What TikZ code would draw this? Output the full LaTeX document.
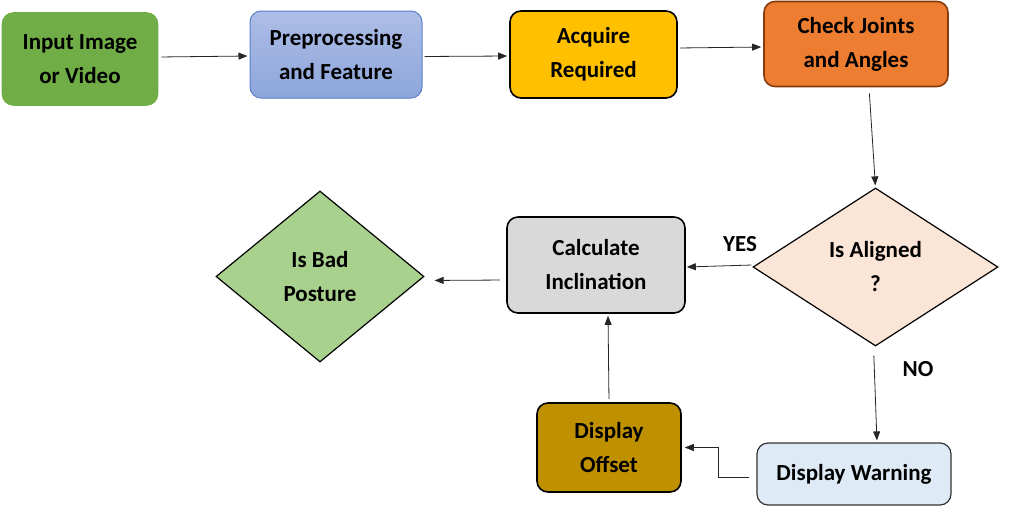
\documentclass[tikz,border=0pt]{standalone}
\usepackage{fontspec}
\setmainfont{Carlito}
\usetikzlibrary{shapes.geometric,arrows.meta}
\definecolor{cgreen}{HTML}{70AD47}
\definecolor{cbluetop}{HTML}{ADBDE6}
\definecolor{cbluebot}{HTML}{8DA6DB}
\definecolor{cblueline}{HTML}{5B7FCB}
\definecolor{cyellow}{HTML}{FFC000}
\definecolor{corange}{HTML}{ED7D31}
\definecolor{cbrown}{HTML}{843C0C}
\definecolor{cpeach}{HTML}{FBE5D6}
\definecolor{cgray}{HTML}{D9D9D9}
\definecolor{clgreen}{HTML}{A9D18E}
\definecolor{cgold}{HTML}{BF9000}
\definecolor{clblue}{HTML}{DEEBF7}
\tikzset{
  box/.style={rectangle, rounded corners=11pt, inner sep=0pt, align=center, line width=1.6pt,
    font=\fontsize{23}{34}\selectfont\bfseries},
  dia/.style={diamond, inner sep=0pt, align=center, draw=black, line width=1.2pt,
    font=\fontsize{23}{34}\selectfont\bfseries},
  lbl/.style={font=\fontsize{23}{26}\selectfont\bfseries},
  arr/.style={-{Triangle[length=9pt,width=7pt]}, line width=0.8pt, black!85}
}
\begin{document}
\begin{tikzpicture}[x=1pt,y=-1pt]
\useasboundingbox (0,0) rectangle (1018,509);
\node[box, fill=cgreen, draw=cgreen, minimum width=155pt, minimum height=92pt] (input) at (80,59) {Input Image\\or Video};
\node[box, top color=cbluetop, bottom color=cbluebot, draw=cblueline, line width=1pt, minimum width=172pt, minimum height=87pt] (prep) at (336,54.5) {Preprocessing\\and Feature};
\node[box, fill=cyellow, draw=black, minimum width=167pt, minimum height=87pt] (acq) at (593.5,54.5) {Acquire\\Required};
\node[box, fill=corange, draw=cbrown, minimum width=184pt, minimum height=85pt] (check) at (856,44) {Check Joints\\and Angles};
\node[dia, fill=cpeach, minimum width=245pt, minimum height=158pt] (aligned) at (875.5,267) {Is Aligned\\?};
\node[box, fill=cgray, draw=black, minimum width=178pt, minimum height=96pt] (calc) at (596,265) {Calculate\\Inclination};
\node[dia, fill=clgreen, minimum width=208pt, minimum height=171pt] (bad) at (320,276.5) {Is Bad\\Posture};
\node[box, fill=cgold, draw=black, minimum width=144pt, minimum height=89pt] (offset) at (609,447.5) {Display\\Offset};
\node[box, fill=clblue, draw=black!80, line width=1.2pt, minimum width=194pt, minimum height=62pt] (warning) at (854,474) {Display Warning};
\node[lbl] (yes) at (740,244) {YES};
\node[lbl] (no) at (918,369) {NO};
\draw[arr, shorten <=3pt, shorten >=2pt] ([yshift=2pt]input.east) -- ([yshift=-1.5pt]prep.west);
\draw[arr, shorten <=2pt, shorten >=2pt] ([yshift=-2pt]prep.east) -- ([yshift=-1.5pt]acq.west);
\draw[arr, shorten <=2pt, shorten >=2pt] ([yshift=6.5pt]acq.east) -- ([yshift=-3pt]check.west);
\draw[arr, shorten <=6pt, shorten >=2pt] ([xshift=13pt]check.south) -- (aligned.north);
\draw[arr, shorten <=1pt, shorten >=1pt] ([yshift=2pt]aligned.west) -- ([yshift=-2pt]calc.east);
\draw[arr, shorten <=6pt, shorten >=10pt] ([yshift=-15pt]calc.west) -- ([yshift=-4pt]bad.east);
\draw[arr, shorten <=9pt, shorten >=2pt] ([xshift=-2pt]aligned.south) -- ([xshift=23pt]warning.north);
\draw[arr] ([xshift=-7pt,yshift=-3pt]warning.west) -- ++(-31,0) |- ([xshift=3pt]offset.east);
\draw[arr, shorten <=3pt, shorten >=2pt] (offset.north) -- ([xshift=12pt]calc.south);
\end{tikzpicture}
\end{document}
